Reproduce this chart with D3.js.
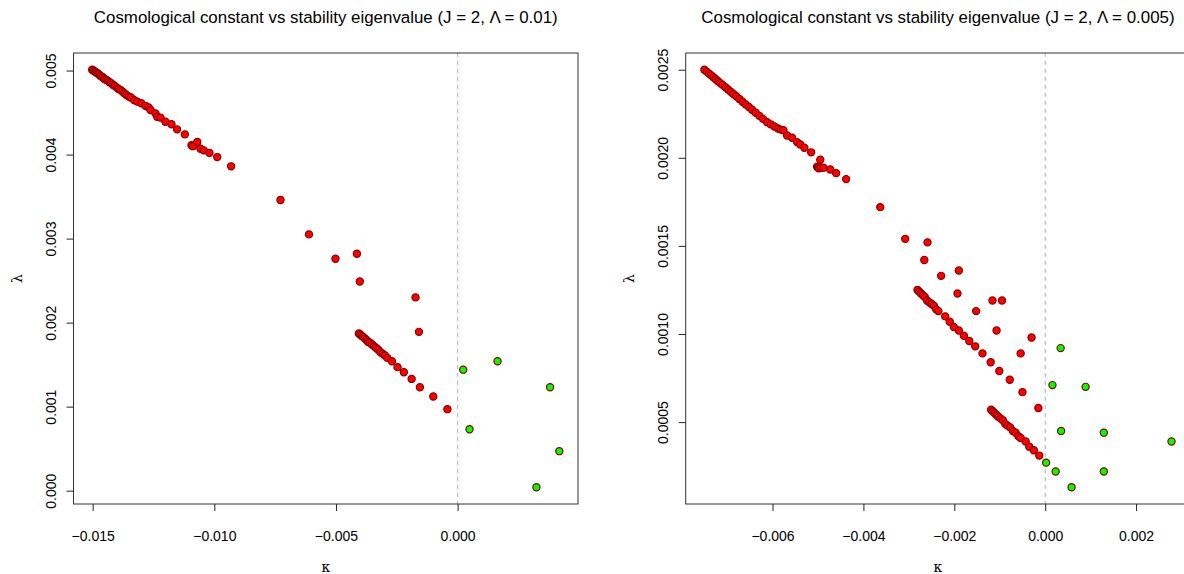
<!DOCTYPE html>
<html>
<head>
<meta charset="utf-8">
<script src="https://cdn.jsdelivr.net/npm/d3@7"></script>
<style>
  body { margin: 0; background: #fff; }
  svg { display: block; }
  text { font-family: "Liberation Sans", Arial, sans-serif; fill: #000; }
</style>
</head>
<body>
<svg id="chart" width="1184" height="574"></svg>
<script>
// left panel, Lambda = 0.01 : unstable (red) points
const leftRedK = [
  -0.01502, -0.01497, -0.01492, -0.01487, -0.01482, -0.01476, -0.01470, -0.01464, -0.01458, -0.01452,
  -0.01445, -0.01438, -0.01431, -0.01424, -0.01417, -0.01410, -0.01402, -0.01394, -0.01386, -0.01378,
  -0.01370, -0.01361, -0.01352, -0.01343, -0.01330, -0.01317, -0.01300, -0.01283, -0.01270, -0.01262,
  -0.01242, -0.01235, -0.01221, -0.01201, -0.01176, -0.01153, -0.01121,
  -0.01094, -0.01088, -0.01070, -0.01057, -0.01043, -0.01020, -0.00988, -0.00931,
  -0.00728, -0.00611, -0.00502, -0.00414, -0.00402, -0.00173, -0.00159,
  -0.00406, -0.00400, -0.00394, -0.00388, -0.00381, -0.00374, -0.00367, -0.00360, -0.00352, -0.00344,
  -0.00336, -0.00327, -0.00318, -0.00308, -0.00299, -0.00289, -0.00270, -0.00247, -0.00221, -0.00189,
  -0.00155, -0.00100, -0.00042
];
const leftRedL = [
  0.00501, 0.00500, 0.00499, 0.00498, 0.00497, 0.00496, 0.00494, 0.00493, 0.00492, 0.00490,
  0.00489, 0.00488, 0.00486, 0.00485, 0.00483, 0.00482, 0.00480, 0.00478, 0.00477, 0.00475,
  0.00473, 0.00471, 0.00469, 0.00468, 0.00465, 0.00463, 0.00461, 0.00458, 0.00456, 0.00453,
  0.00449, 0.00445, 0.00444, 0.00439, 0.00436, 0.00430, 0.00424,
  0.00411, 0.00410, 0.00415, 0.00407, 0.00405, 0.00402, 0.00397, 0.00386,
  0.00346, 0.00305, 0.00276, 0.00282, 0.00249, 0.00230, 0.00189,
  0.00187, 0.00186, 0.00184, 0.00183, 0.00181, 0.00179, 0.00177, 0.00176, 0.00174, 0.00172,
  0.00170, 0.00168, 0.00165, 0.00163, 0.00161, 0.00158, 0.00154, 0.00147, 0.00141, 0.00133,
  0.00123, 0.00112, 0.00097
];
// left panel: stable (green) points
const leftGreenK = [0.00023, 0.00164, 0.00380, 0.00049, 0.00418, 0.00324];
const leftGreenL = [0.00144, 0.00154, 0.00123, 0.00073, 0.00047, 0.00004];

// right panel, Lambda = 0.005 : unstable (red) points
const rightRedK = [
  -0.00750, -0.00745, -0.00740, -0.00735, -0.00730, -0.00725, -0.00720, -0.00715, -0.00710, -0.00704,
  -0.00698, -0.00692, -0.00686, -0.00680, -0.00673, -0.00666, -0.00659, -0.00652, -0.00645, -0.00637,
  -0.00629, -0.00621, -0.00612, -0.00604, -0.00596, -0.00588, -0.00582, -0.00576, -0.00568, -0.00557,
  -0.00546, -0.00539, -0.00530, -0.00515, -0.00495, -0.00502, -0.00500, -0.00498, -0.00494, -0.00488,
  -0.00473, -0.00460, -0.00438, -0.00363, -0.00308, -0.00259, -0.00266, -0.00229, -0.00190, -0.00193,
  -0.00116, -0.00095, -0.00152, -0.00107, -0.00030, -0.00054,
  -0.00281, -0.00277, -0.00273, -0.00269, -0.00265, -0.00260, -0.00255, -0.00250, -0.00245, -0.00240,
  -0.00235, -0.00220, -0.00210, -0.00201, -0.00190, -0.00179, -0.00167, -0.00154, -0.00138, -0.00120,
  -0.00101, -0.00078, -0.00050, -0.00015,
  -0.00119, -0.00115, -0.00111, -0.00107, -0.00103, -0.00098, -0.00093, -0.00088, -0.00083, -0.00077,
  -0.00071, -0.00065, -0.00059, -0.00054, -0.00043, -0.00035, -0.00025, -0.00013
];
const rightRedL = [
  0.002500, 0.002489, 0.002478, 0.002468, 0.002457, 0.002446, 0.002435, 0.002424, 0.002414, 0.002401,
  0.002388, 0.002375, 0.002362, 0.002349, 0.002334, 0.002318, 0.002303, 0.002288, 0.002273, 0.002256,
  0.002238, 0.002221, 0.002202, 0.002190, 0.002178, 0.002166, 0.002160, 0.002156, 0.002127, 0.002114,
  0.002089, 0.002076, 0.002057, 0.002031, 0.001989, 0.001950, 0.001944, 0.001940, 0.001944, 0.001944,
  0.001934, 0.001913, 0.001879, 0.00172, 0.00154, 0.00152, 0.00142, 0.00133, 0.00136, 0.00123,
  0.00119, 0.00119, 0.00113, 0.00102, 0.00098, 0.00089,
  0.00125, 0.00124, 0.00123, 0.00122, 0.00121, 0.00119, 0.00118, 0.00117, 0.00116, 0.00114,
  0.00113, 0.00110, 0.00107, 0.00104, 0.00102, 0.00099, 0.00096, 0.00093, 0.00089, 0.00084,
  0.00079, 0.00074, 0.00067, 0.00058,
  0.00057, 0.00056, 0.00055, 0.00054, 0.00053, 0.00052, 0.00051, 0.00049, 0.00048, 0.00047,
  0.00045, 0.00044, 0.00042, 0.00041, 0.00039, 0.00036, 0.00034, 0.00031
];
// right panel: stable (green) points
const rightGreenK = [0.00002, 0.00023, 0.00058, 0.00016, 0.00089, 0.00034, 0.00035, 0.00129, 0.00129, 0.00278];
const rightGreenL = [0.00027, 0.00022, 0.00013, 0.00071, 0.00070, 0.00092, 0.00045, 0.00044, 0.00022, 0.00039];

const leftXTicks = [-0.015, -0.010, -0.005, 0.000];
const leftYTicks = [0.000, 0.001, 0.002, 0.003, 0.004, 0.005];
const rightXTicks = [-0.006, -0.004, -0.002, 0.000, 0.002];
const rightYTicks = [0.0005, 0.0010, 0.0015, 0.0020, 0.0025];

const svg = d3.select('#chart');

// R style range: data extent padded by 4% on each side
function padded(values) {
    const [lo, hi] = d3.extent(values);
    const pad = (hi - lo) * 0.04;
    return [lo - pad, hi + pad];
}

function drawPanel(opts) {
    const {left, top, width, height} = opts;
    const allK = opts.redK.concat(opts.greenK);
    const allL = opts.redL.concat(opts.greenL);

    const x = d3.scaleLinear().domain(padded(allK)).range([left, left + width]);
    const y = d3.scaleLinear().domain(padded(allL)).range([top + height, top]);

    const g = svg.append('g');

    // zero line
    g.append('line')
        .attr('x1', x(0)).attr('x2', x(0))
        .attr('y1', top).attr('y2', top + height)
        .attr('stroke', '#b0b0b0')
        .attr('stroke-width', 1)
        .attr('stroke-dasharray', '4,4');

    const red = opts.redK.map((k, i) => ({k: k, l: opts.redL[i]}));
    const green = opts.greenK.map((k, i) => ({k: k, l: opts.greenL[i]}));

    g.selectAll('.red')
        .data(red)
        .enter()
        .append('circle')
        .attr('class', 'red')
        .attr('cx', d => x(d.k))
        .attr('cy', d => y(d.l))
        .attr('r', 3.6)
        .attr('fill', '#ff0000')
        .attr('stroke', '#8b0000')
        .attr('stroke-width', 1.2);

    g.selectAll('.green')
        .data(green)
        .enter()
        .append('circle')
        .attr('class', 'green')
        .attr('cx', d => x(d.k))
        .attr('cy', d => y(d.l))
        .attr('r', 3.6)
        .attr('fill', '#00ff00')
        .attr('stroke', '#8b0000')
        .attr('stroke-width', 1.2);

    // box
    g.append('rect')
        .attr('x', left).attr('y', top)
        .attr('width', width).attr('height', height)
        .attr('fill', 'none')
        .attr('stroke', '#333')
        .attr('stroke-width', 1);

    const xAxis = g.append('g')
        .attr('transform', `translate(0,${top + height})`)
        .call(d3.axisBottom(x).tickValues(opts.xTicks).tickFormat(d3.format('.3f')).tickSize(7).tickSizeOuter(0));
    xAxis.select('.domain').remove();
    xAxis.selectAll('line').attr('stroke', '#222');
    xAxis.selectAll('text')
        .attr('y', 37).attr('dy', null)
        .style('font-size', '14px')
        .style('font-family', '"Liberation Sans", Arial, sans-serif')
        .attr('fill', '#000');

    const yAxis = g.append('g')
        .attr('transform', `translate(${left},0)`)
        .call(d3.axisLeft(y).tickValues(opts.yTicks).tickFormat(d3.format(opts.yFormat)).tickSize(7).tickSizeOuter(0));
    yAxis.select('.domain').remove();
    yAxis.selectAll('line').attr('stroke', '#222');
    yAxis.selectAll('text')
        .attr('transform', 'rotate(-90)')
        .attr('x', 0).attr('y', -18).attr('dy', null)
        .attr('text-anchor', 'middle')
        .style('font-size', '14px')
        .style('font-family', '"Liberation Sans", Arial, sans-serif')
        .attr('fill', '#000');

    // title
    const t = g.append('text')
        .attr('x', left + width / 2)
        .attr('y', 23)
        .attr('text-anchor', 'middle')
        .style('font-size', '16.9px');
    t.append('tspan').text('Cosmological constant vs stability eigenvalue (J = 2, ');
    t.append('tspan').text('\u039B = ' + opts.lambdaText);
    t.append('tspan').text(')');

    // axis labels
    g.append('text')
        .attr('x', left + width / 2)
        .attr('y', 572)
        .attr('text-anchor', 'middle')
        .style('font-family', '"DejaVu Serif", serif')
        .style('font-size', '14px')
        .text('\u03BA');

    g.append('text')
        .attr('transform', `translate(${left - 52},${top + height / 2}) rotate(-90)`)
        .attr('text-anchor', 'middle')
        .style('font-family', '"DejaVu Serif", serif')
        .style('font-size', '14px')
        .text('\u03BB');
}

drawPanel({
    left: 73.5, top: 53, width: 504.5, height: 451,
    redK: leftRedK, redL: leftRedL, greenK: leftGreenK, greenL: leftGreenL,
    xTicks: leftXTicks, yTicks: leftYTicks, yFormat: '.3f', lambdaText: '0.01'
});

drawPanel({
    left: 685.7, top: 53, width: 504.5, height: 451,
    redK: rightRedK, redL: rightRedL, greenK: rightGreenK, greenL: rightGreenL,
    xTicks: rightXTicks, yTicks: rightYTicks, yFormat: '.4f', lambdaText: '0.005'
});
</script>
</body>
</html>
